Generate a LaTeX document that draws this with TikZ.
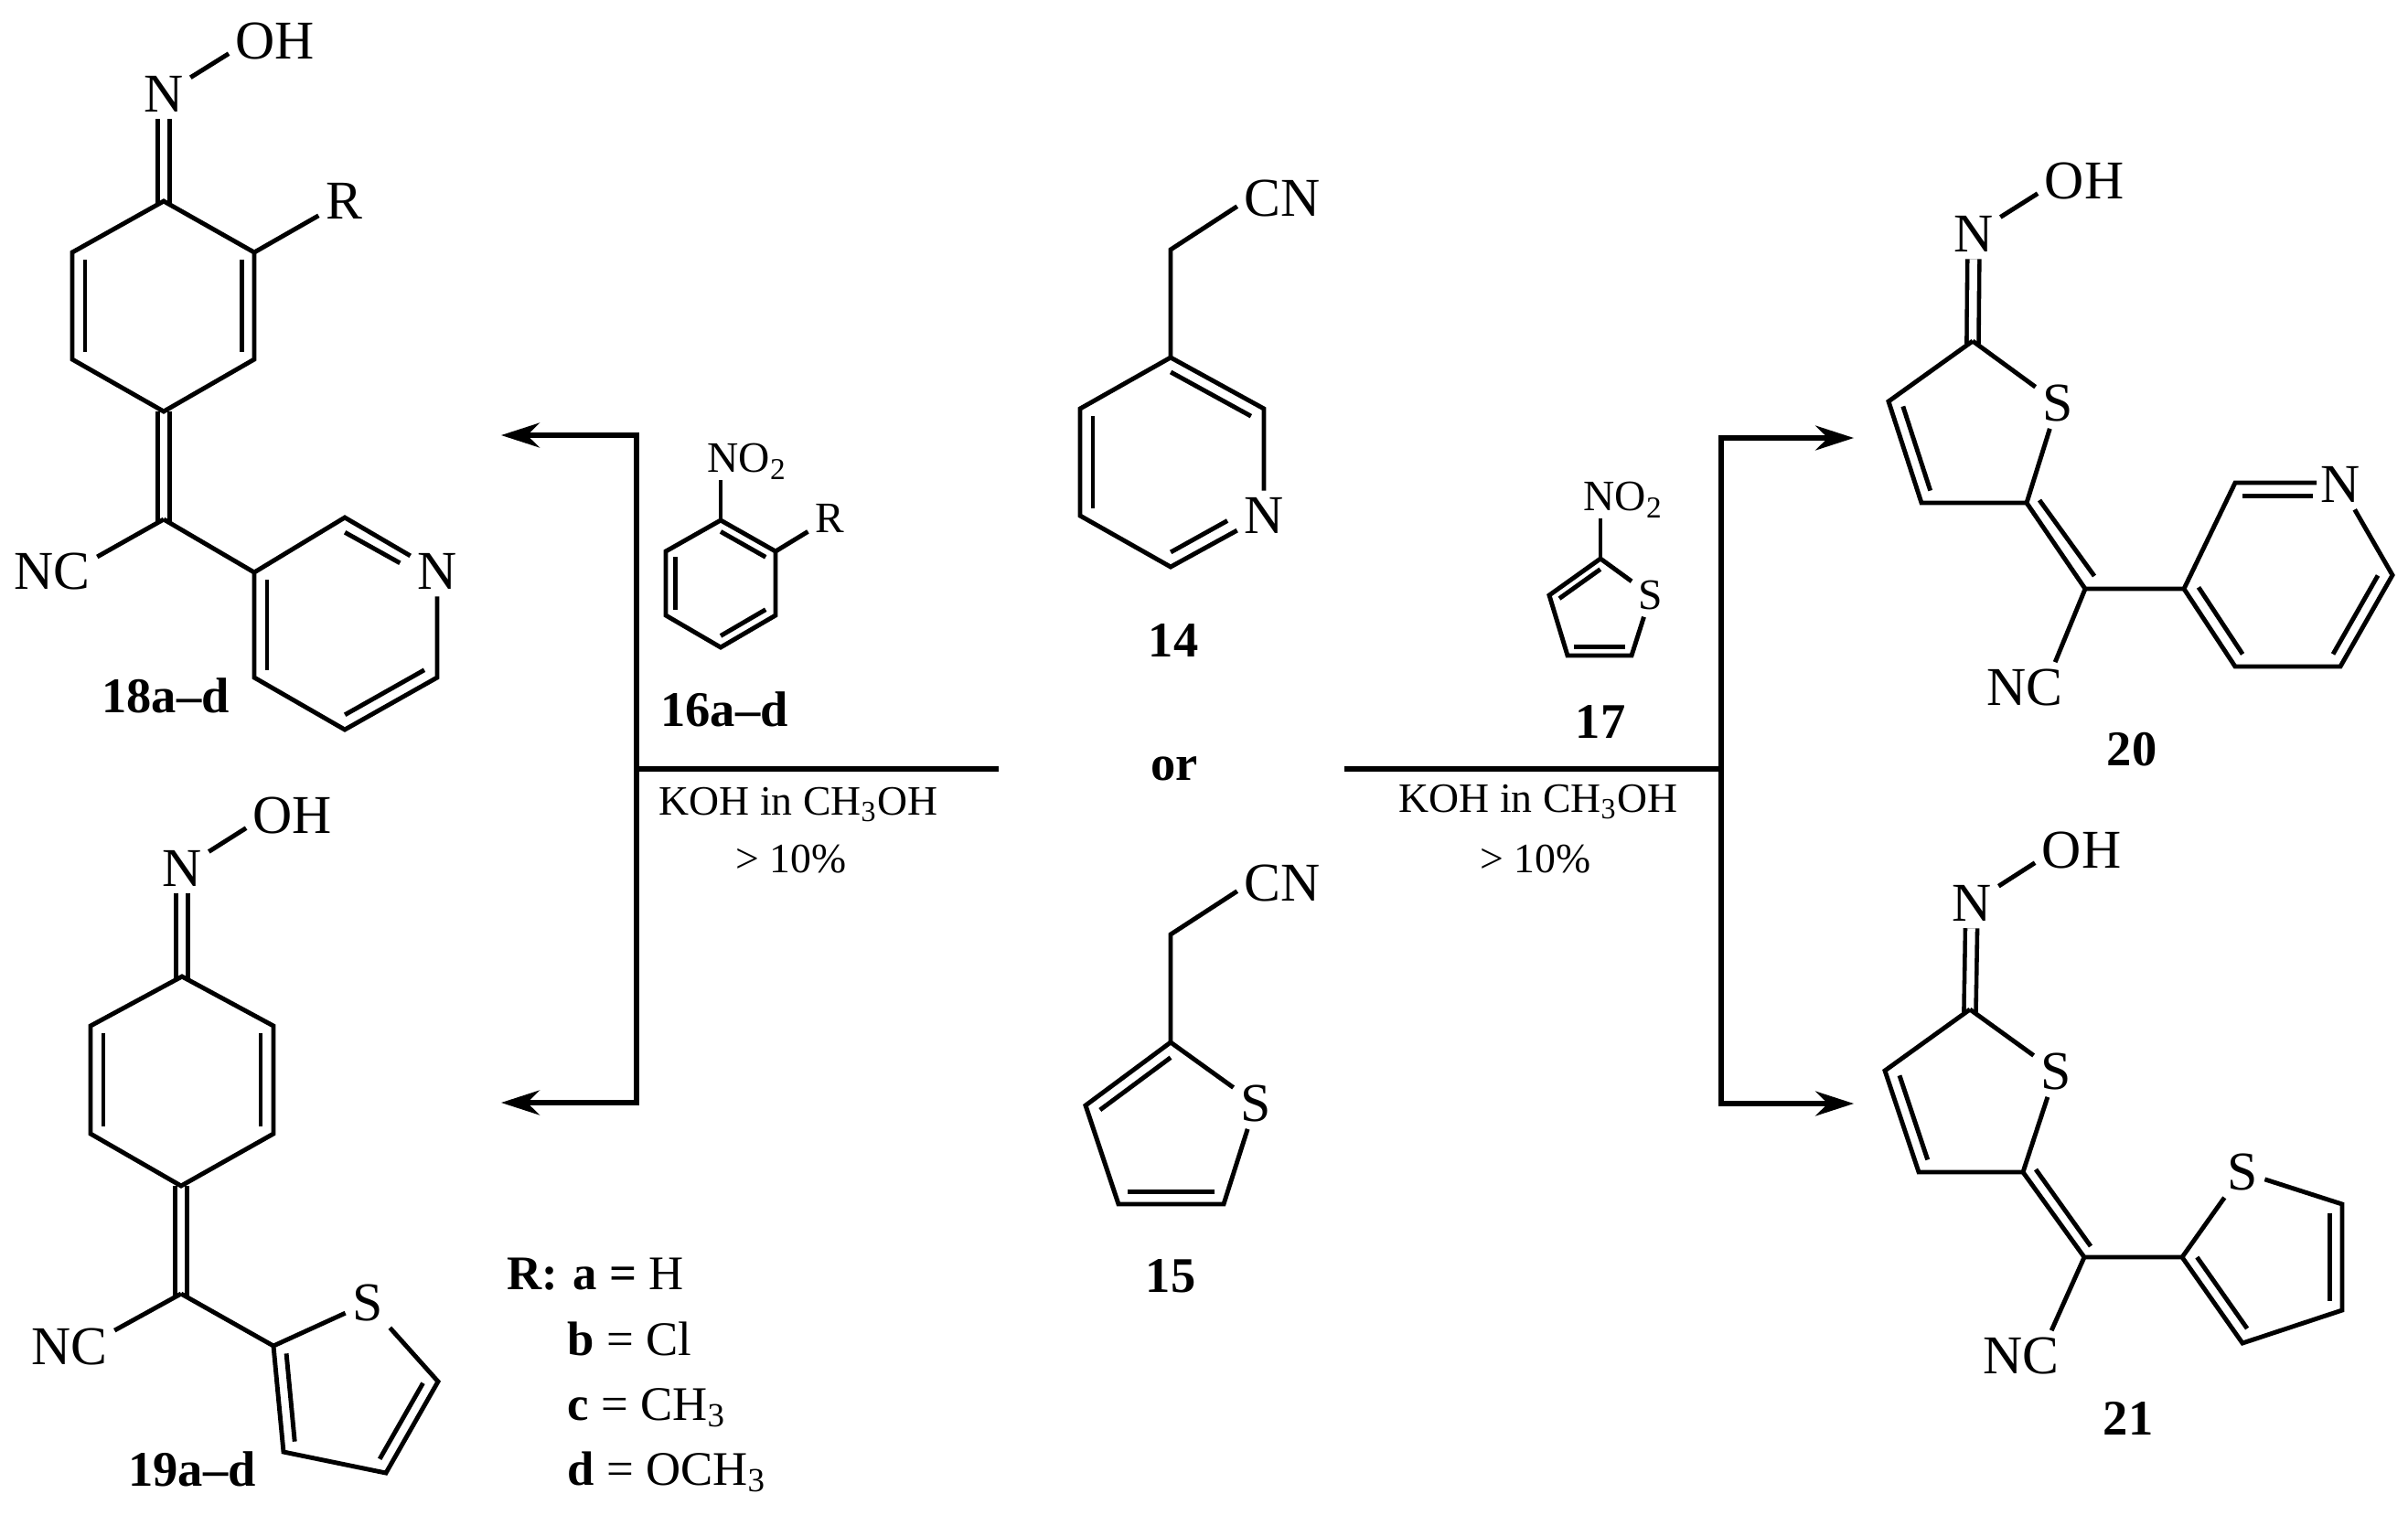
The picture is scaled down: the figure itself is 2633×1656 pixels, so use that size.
\documentclass[tikz,border=0pt]{standalone}
\usepackage{fontspec}
\setmainfont{Liberation Serif}
\usetikzlibrary{arrows.meta,calc}
\tikzset{
  bond/.style={line width=1.4pt, line join=miter},
  dbl/.style={double, line width=1.3pt, double distance=0.085cm, shorten >=-0.03cm},
  rxn/.style={line width=1.5pt},
  rxnarrow/.style={rxn, -{Stealth[length=0.42cm, width=0.27cm]}},
  atom/.style={inner sep=2pt, font=\fontsize{17}{20}\selectfont},
  atomsmall/.style={inner sep=2pt, font=\fontsize{13.5}{16}\selectfont},
  cond/.style={inner sep=0pt, font=\fontsize{13}{15}\selectfont},
  cmpd/.style={inner sep=0pt, font=\fontsize{15.5}{18}\selectfont\bfseries},
  subst/.style={inner sep=0pt, anchor=base west, font=\fontsize{15}{18}\selectfont}
}
% second line of a double bond, pulled towards the ring centre
\newcommand{\innerbond}[4][.14]{\draw[bond] ($(#2)!#1!(#4)$) -- ($(#3)!#1!(#4)$);}
\begin{document}
\begin{tikzpicture}[x=0.01cm, y=-0.01cm]
  \useasboundingbox (0,0) rectangle (2633,1656);

  % Compound 18
  \foreach \atom/\x/\y in {a/179/220, b/278/276, c/278/393, d/179/450, e/79/393, f/79/276, g/179/568,
      h/278/626, i/377/566, j/447/605, k/478/741, l/377/798, m/278/741, p/179/335, q/378/682} {
    \coordinate (m18\atom) at (\x,\y);
  }
  \node[atom] (m18oh) at (301,45) {OH};
  \node[atom] (m18no) at (179,103) {N};
  \node[atom] (m18r) at (376,220) {R};
  \node[atom] (m18nc) at (57,625) {NC};
  \node[atom] (m18n) at (478,625) {N};
  \node[cmpd] (m18lab) at (181,761) {18a--d};
  \draw[bond] (m18no) -- (m18oh.195);
  \draw[dbl] (m18no) -- (m18a);
  \draw[dbl] (m18d) -- (m18g);
  \draw[bond] (m18a) -- (m18b) -- (m18c) -- (m18d) -- (m18e) -- (m18f) -- cycle;
  \draw[bond] (m18b) -- (m18r);
  \draw[bond] (m18g) -- (m18nc.18);
  \draw[bond] (m18g) -- (m18h) -- (m18i) -- (m18n) -- (m18k) -- (m18l) -- (m18m) -- (m18h);
  \innerbond{m18b}{m18c}{m18p}
  \innerbond{m18e}{m18f}{m18p}
  \innerbond{m18i}{m18j}{m18q}
  \innerbond{m18k}{m18l}{m18q}
  \innerbond{m18m}{m18h}{m18q}

  % Compound 16
  \foreach \atom/\x/\y in {a/788/569, b/848/603, c/848/673, d/788/708, e/728/673, f/728/603, p/788/638} {
    \coordinate (m16\atom) at (\x,\y);
  }
  \node[atomsmall, inner sep=0pt] (m16no) at (817,505) {NO\textsubscript{2}};
  \node[atomsmall] (m16r) at (907,567) {R};
  \node[cmpd] (m16lab) at (792,776) {16a--d};
  \draw[bond] (m16a |- m16no.south) -- (m16a);
  \draw[bond] (m16a) -- (m16b) -- (m16c) -- (m16d) -- (m16e) -- (m16f) -- cycle;
  \draw[bond] (m16b) -- (m16r);
  \innerbond[.18]{m16a}{m16b}{m16p}
  \innerbond[.18]{m16c}{m16d}{m16p}
  \innerbond[.18]{m16e}{m16f}{m16p}

  % Compound 19
  \foreach \atom/\x/\y in {a/199/1068, b/299/1122, c/299/1240, d/198/1297, e/99/1240, f/99/1122, g/198/1415,
      h/299/1472, i/479/1511, j/422/1611, k/310/1588, p/199/1182, q/382/1521} {
    \coordinate (m19\atom) at (\x,\y);
  }
  \node[atom] (m19oh) at (320,892) {OH};
  \node[atom] (m19no) at (199,950) {N};
  \node[atom] (m19nc) at (76,1473) {NC};
  \node[atom] (m19s) at (402,1425) {S};
  \node[cmpd] (m19lab) at (210,1607) {19a--d};
  \draw[bond] (m19no) -- (m19oh.195);
  \draw[dbl] (m19no) -- (m19a);
  \draw[dbl] (m19d) -- (m19g);
  \draw[bond] (m19a) -- (m19b) -- (m19c) -- (m19d) -- (m19e) -- (m19f) -- cycle;
  \draw[bond] (m19g) -- (m19nc.20);
  \draw[bond] (m19g) -- (m19h) -- (m19s) -- (m19i) -- (m19j) -- (m19k) -- (m19h);
  \innerbond{m19b}{m19c}{m19p}
  \innerbond{m19e}{m19f}{m19p}
  \innerbond[.17]{m19i}{m19j}{m19q}
  \innerbond[.17]{m19k}{m19h}{m19q}

  % Substituents
  \node[subst] (rhead) at (554,1410) {\textbf{R:}};
  \node[subst] (rowa) at (626,1410) {\textbf{a =} H};
  \node[subst] (rowb) at (620,1482) {\textbf{b} = Cl};
  \node[subst] (rowc) at (620,1553) {\textbf{c} = CH\textsubscript{3}};
  \node[subst] (rowd) at (620,1624) {\textbf{d} = OCH\textsubscript{3}};

  % Compound 14
  \foreach \atom/\x/\y in {a/1280/273, b/1280/391, c/1382/447, d/1352/580, e/1280/620, f/1181/564, g/1181/447, p/1281/505} {
    \coordinate (m14\atom) at (\x,\y);
  }
  \node[atom] (m14cn) at (1402,217) {CN};
  \node[atom] (m14n) at (1382,564) {N};
  \node[cmpd] (m14lab) at (1283,700) {14};
  \draw[bond] (m14cn.190) -- (m14a) -- (m14b);
  \draw[bond] (m14b) -- (m14c) -- (m14n) -- (m14e) -- (m14f) -- (m14g) -- (m14b);
  \innerbond{m14b}{m14c}{m14p}
  \innerbond{m14d}{m14e}{m14p}
  \innerbond{m14f}{m14g}{m14p}

  \node[cmpd] (orlab) at (1284,841) {or};

  % Compound 15
  \foreach \atom/\x/\y in {a/1280/1022, b/1280/1140, c/1338/1317, d/1223/1317, e/1187/1209, p/1280/1238} {
    \coordinate (m15\atom) at (\x,\y);
  }
  \node[atom] (m15cn) at (1402,966) {CN};
  \node[atom] (m15s) at (1373,1207) {S};
  \node[cmpd] (m15lab) at (1280,1396) {15};
  \draw[bond] (m15cn.190) -- (m15a) -- (m15b);
  \draw[bond] (m15b) -- (m15s) -- (m15c) -- (m15d) -- (m15e) -- (m15b);
  \innerbond[.17]{m15e}{m15b}{m15p}
  \innerbond[.17]{m15c}{m15d}{m15p}

  % Compound 17
  \foreach \atom/\x/\y in {a/1750/611, b/1784/717, c/1714/717, d/1694/651, p/1749/669} {
    \coordinate (m17\atom) at (\x,\y);
  }
  \node[atomsmall, inner sep=0pt] (m17no) at (1775,547) {NO\textsubscript{2}};
  \node[atomsmall] (m17s) at (1805,651) {S};
  \node[cmpd] (m17lab) at (1750,789) {17};
  \draw[bond] (m17a |- m17no.south) -- (m17a);
  \draw[bond] (m17a) -- (m17s) -- (m17b) -- (m17c) -- (m17d) -- (m17a);
  \innerbond[.2]{m17d}{m17a}{m17p}
  \innerbond[.2]{m17b}{m17c}{m17p}

  % Compound 20
  \foreach \atom/\x/\y in {a/2157/373, b/2216/550, c/2101/550, d/2065/439, e/2280/644, f/2388/644, g/2444/528,
      h/2533/528, i/2616/629, j/2559/729, k/2444/729, p/2158/471, q/2502/632, u/2230/547, v/2290/630} {
    \coordinate (m20\atom) at (\x,\y);
  }
  \node[atom] (m20oh) at (2279,198) {OH};
  \node[atom] (m20no) at (2158,256) {N};
  \node[atom] (m20s) at (2250,441) {S};
  \node[atom] (m20nc) at (2214,752) {NC};
  \node[atom] (m20n) at (2559,530) {N};
  \node[cmpd] (m20lab) at (2331,820) {20};
  \draw[bond] (m20no) -- (m20oh.195);
  \draw[dbl] (m20no) -- (m20a);
  \draw[bond] (m20a) -- (m20s) -- (m20b) -- (m20c) -- (m20d) -- (m20a);
  \draw[bond] (m20b) -- (m20e) -- (m20f);
  \draw[bond] (m20u) -- (m20v);
  \draw[bond] (m20e) -- (m20nc.40);
  \draw[bond] (m20f) -- (m20g) -- (m20h);
  \draw[bond] (m20n) -- (m20i) -- (m20j) -- (m20k) -- (m20f);
  \innerbond[.17]{m20d}{m20c}{m20p}
  \innerbond{m20g}{m20h}{m20q}
  \innerbond{m20i}{m20j}{m20q}
  \innerbond{m20k}{m20f}{m20q}

  % Compound 21
  \foreach \atom/\x/\y in {a/2154/1104, b/2212/1282, c/2098/1282, d/2061/1171, e/2279/1375, f/2386/1375,
      g/2561/1317, h/2561/1433, i/2452/1469, p/2155/1202, q/2482/1375, u/2226/1279, v/2286/1363} {
    \coordinate (m21\atom) at (\x,\y);
  }
  \node[atom] (m21oh) at (2276,930) {OH};
  \node[atom] (m21no) at (2156,988) {N};
  \node[atom] (m21s) at (2248,1172) {S};
  \node[atom] (m21nc) at (2210,1483) {NC};
  \node[atom] (m21t) at (2452,1282) {S};
  \node[cmpd] (m21lab) at (2327,1551) {21};
  \draw[bond] (m21no) -- (m21oh.195);
  \draw[dbl] (m21no) -- (m21a);
  \draw[bond] (m21a) -- (m21s) -- (m21b) -- (m21c) -- (m21d) -- (m21a);
  \draw[bond] (m21b) -- (m21e) -- (m21f);
  \draw[bond] (m21u) -- (m21v);
  \draw[bond] (m21e) -- (m21nc.40);
  \draw[bond] (m21f) -- (m21t) -- (m21g) -- (m21h) -- (m21i) -- (m21f);
  \innerbond[.17]{m21d}{m21c}{m21p}
  \innerbond[.17]{m21g}{m21h}{m21q}
  \innerbond[.17]{m21i}{m21f}{m21q}

  % Reaction lines
  \coordinate (lstart) at (1092,841);
  \coordinate (ljunc) at (696,841);
  \coordinate (ltipa) at (548,476);
  \coordinate (ltipb) at (548,1206);
  \coordinate (rstart) at (1470,841);
  \coordinate (rjunc) at (1882,841);
  \coordinate (rtipa) at (2027,479);
  \coordinate (rtipb) at (2027,1207);
  \draw[rxn] (lstart) -- (ljunc);
  \draw[rxnarrow] (ljunc) |- (ltipa);
  \draw[rxnarrow] (ljunc) |- (ltipb);
  \draw[rxn] (rstart) -- (rjunc);
  \draw[rxnarrow] (rjunc) |- (rtipa);
  \draw[rxnarrow] (rjunc) |- (rtipb);

  % Conditions
  \node[cond] (lcond) at (873,880) {KOH in CH\textsubscript{3}OH};
  \node[cond] (lyield) at (865,940) {> 10\%};
  \node[cond] (rcond) at (1682,877) {KOH in CH\textsubscript{3}OH};
  \node[cond] (ryield) at (1679,940) {> 10\%};
\end{tikzpicture}
\end{document}
